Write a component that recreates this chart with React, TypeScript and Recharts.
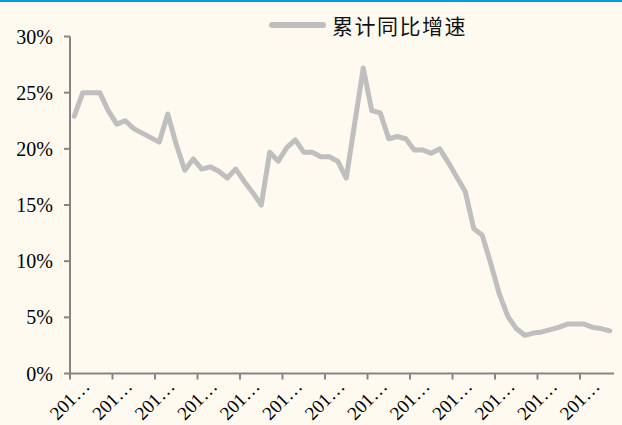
import React from "react";
import { LineChart, Line, XAxis, YAxis } from "recharts";

// 累计同比增速, monthly, in %
const growth = [
  22.9, 25.0, 25.0, 25.0, 23.4, 22.2, 22.5, 21.8, 21.4, 21.0,
  20.6, 23.1, 20.4, 18.1, 19.1, 18.2, 18.4, 18.0, 17.4, 18.2,
  17.1, 16.1, 15.0, 19.7, 18.9, 20.1, 20.8, 19.7, 19.7, 19.3,
  19.3, 18.9, 17.4, 22.3, 27.2, 23.4, 23.2, 20.9, 21.1, 20.9,
  19.9, 19.9, 19.6, 20.0, 18.8, 17.5, 16.2, 12.9, 12.3, 9.8,
  7.1, 5.1, 4.0, 3.4, 3.6, 3.7, 3.9, 4.1, 4.4, 4.4,
  4.4, 4.1, 4.0, 3.8,
];

const tickLabels = [
  "201…", "201…", "201…", "201…", "201…", "201…", "201…",
  "201…", "201…", "201…", "201…", "201…", "201…",
];

const yTicks = [0, 5, 10, 15, 20, 25, 30];

const seriesName = "累计同比增速";

const data = growth.map((v, i) => ({ idx: i, value: v }));
// ticks sit on category boundaries, every 5 months
const xTicks = tickLabels.map((_, i) => i * 5 - 0.5);

const AXIS = "#858585";
const LINE = "#BFBFBF";
const FONT = '"Liberation Serif", "Times New Roman", serif';

function renderXTick(props: any) {
  const { x, y, index } = props;
  return (
    <g key={index} transform={`translate(${x + 21},${y + 6})`}>
      <text
        x={0}
        y={0}
        transform="rotate(-45)"
        textAnchor="end"
        fontFamily={FONT}
        fontSize={19}
        fill="#000"
      >
        {tickLabels[index]}
      </text>
    </g>
  );
}

export default function App() {
  return (
    <div
      style={{
        position: "fixed",
        left: 0,
        top: 0,
        width: 622,
        height: 425,
        background: "#FEFAF0",
        overflow: "hidden",
      }}
    >
      <div
        style={{
          position: "absolute",
          left: 0,
          top: 0,
          width: 622,
          height: 2,
          background: "#009FE3",
        }}
      />
      <div
        style={{
          position: "absolute",
          left: 269,
          top: 10,
          display: "flex",
          alignItems: "center",
        }}
      >
        <div
          style={{
            width: 57,
            height: 6,
            borderRadius: 3,
            background: LINE,
            marginRight: 6,
          }}
        />
        <span
          style={{
            fontFamily: '"Noto Sans CJK SC", sans-serif',
            fontSize: 21,
            letterSpacing: 1.5,
            color: "#111",
          }}
        >
          {seriesName}
        </span>
      </div>
      <LineChart
        width={622}
        height={425}
        data={data}
        margin={{ top: 36.5, right: 8, left: 0, bottom: 1.5 }}
      >
        <XAxis
          dataKey="idx"
          type="number"
          domain={[-0.5, 63.5]}
          ticks={xTicks}
          interval={0}
          tick={renderXTick}
          tickSize={6}
          tickLine={{ stroke: AXIS, strokeWidth: 2 }}
          axisLine={{ stroke: AXIS, strokeWidth: 2 }}
          height={50}
        />
        <YAxis
          domain={[0, 30]}
          ticks={yTicks}
          interval={0}
          tickFormatter={(v: number) => `${v}%`}
          tick={{ fontFamily: FONT, fontSize: 20, fill: "#000" }}
          tickSize={6}
          tickMargin={11}
          tickLine={{ stroke: AXIS, strokeWidth: 2 }}
          axisLine={{ stroke: AXIS, strokeWidth: 2 }}
          width={70}
        />
        <Line
          dataKey="value"
          name={seriesName}
          stroke={LINE}
          strokeWidth={5}
          strokeLinejoin="round"
          strokeLinecap="round"
          dot={false}
          type="linear"
          isAnimationActive={false}
        />
      </LineChart>
    </div>
  );
}
